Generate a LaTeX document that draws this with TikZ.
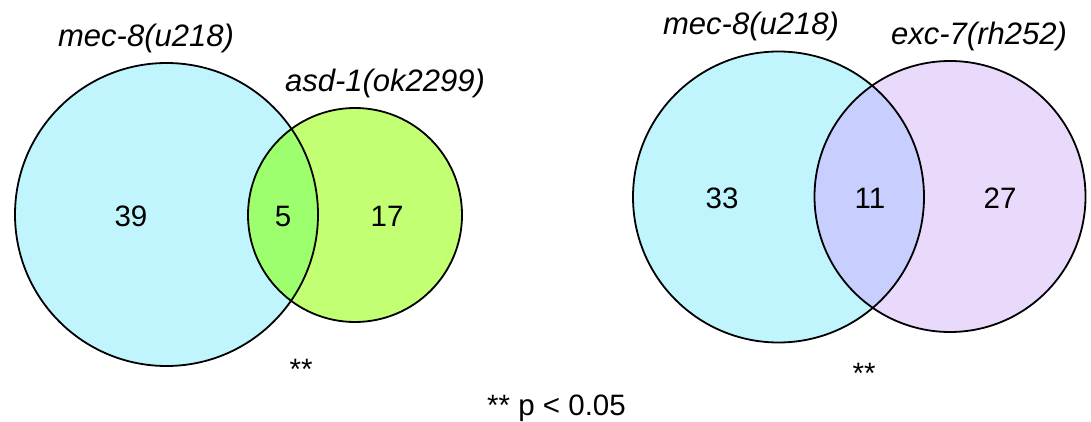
\documentclass[tikz,border=0pt]{standalone}
\usepackage{fontspec}
\setmainfont{Liberation Sans}
\definecolor{setcyan}{HTML}{C1F5FE}
\definecolor{setlime}{HTML}{C3FF72}
\definecolor{lensgreen}{HTML}{9DFF6E}
\definecolor{setlilac}{HTML}{E9D9FB}
\definecolor{lensblue}{HTML}{C8CFFE}
\tikzset{
  outline/.style={draw=black, line width=1.8pt},
  setlabel/.style={anchor=base, inner sep=0pt, font=\fontsize{31}{33}\selectfont\itshape},
  count/.style={inner sep=0pt, font=\fontsize{29.5}{31}\selectfont},
  signif/.style={anchor=base, inner sep=0pt, font=\fontsize{29.5}{31}\selectfont},
}
\begin{document}
\begin{tikzpicture}[x=1pt, y=-1pt]
\useasboundingbox (0,0) rectangle (1091,422);

% left pair of sets
\coordinate (mecL) at (166.5,214.5);
\coordinate (asd) at (355,215);
\fill[setcyan] (mecL) circle (151.5);
\fill[setlime] (asd) circle (107);
\begin{scope}
  \clip (mecL) circle (151.5);
  \fill[lensgreen] (asd) circle (107);
\end{scope}
\draw[outline] (mecL) circle (151.5);
\draw[outline] (asd) circle (107);

% right pair of sets
\coordinate (mecR) at (778.5,197);
\coordinate (exc) at (950,196.5);
\fill[setcyan] (mecR) circle (145.5);
\fill[setlilac] (exc) circle (135.5);
\begin{scope}
  \clip (mecR) circle (145.5);
  \fill[lensblue] (exc) circle (135.5);
\end{scope}
\draw[outline] (mecR) circle (145.5);
\draw[outline] (exc) circle (135.5);

% set names
\node[setlabel] (labMecL) at (146,47) {mec-8(u218)};
\node[setlabel] (labAsd) at (385,92) {asd-1(ok2299)};
\node[setlabel] (labMecR) at (751,35) {mec-8(u218)};
\node[setlabel] (labExc) at (979,45) {exc-7(rh252)};

% counts
\node[count] (n39) at (131,216) {39};
\node[count] (n5) at (283,216) {5};
\node[count] (n17) at (387,216) {17};
\node[count] (n33) at (722,198) {33};
\node[count] (n11) at (870,198) {11};
\node[count] (n27) at (1000,198) {27};

% significance marks
\node[signif] (starL) at (301,379) {**};
\node[signif] (starR) at (864,383) {**};
\node[signif] (legend) at (556.5,415) {** p < 0.05};
\end{tikzpicture}
\end{document}
